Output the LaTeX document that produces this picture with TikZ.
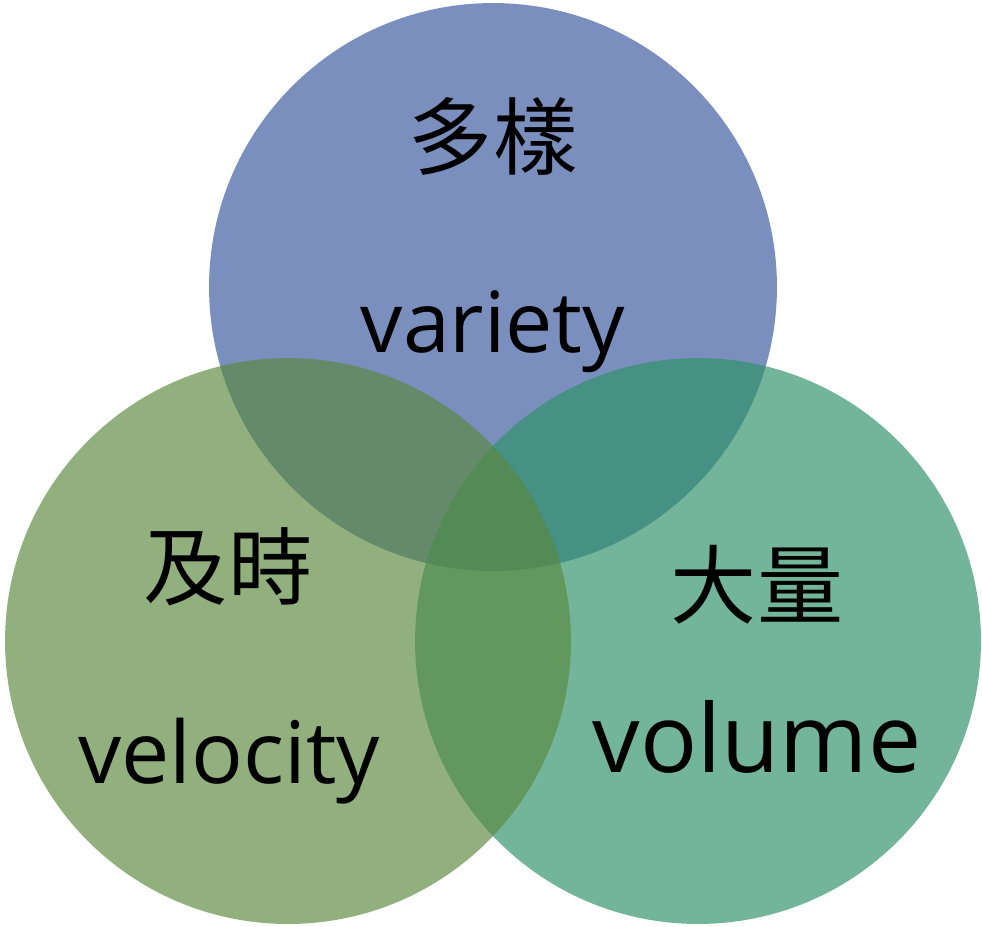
\documentclass[tikz,border=0pt]{standalone}
\usepackage{fontspec}
\setmainfont{Open Sans}
\newfontfamily\cjk{Noto Sans CJK TC}
\usepackage{tikz}
\usetikzlibrary{positioning}
\definecolor{vblue}{RGB}{57,88,157}
\definecolor{vteal}{RGB}{45,145,104}
\definecolor{vgreen}{RGB}{91,137,63}

\begin{document}
\begin{tikzpicture}[x=0.02cm, y=-0.02cm]
    \useasboundingbox (0,0) rectangle (982,926);
    \node[circle, fill=vblue, fill opacity=0.67, minimum size=11.36cm, inner sep=0pt] (top) at (493,287) {};
    \node[circle, fill=vteal, fill opacity=0.67, minimum size=11.32cm, inner sep=0pt] (right) at (698,641) {};
    \node[circle, fill=vgreen, fill opacity=0.67, minimum size=11.32cm, inner sep=0pt] (left) at (288,641) {};
    \node[font=\cjk\fontsize{48}{52}\selectfont] (topzh) at (493,136) {多樣};
    \node[font=\fontsize{48}{52}\selectfont] (topen) at (493,332) {variety};
    \node[font=\cjk\fontsize{48}{52}\selectfont] (leftzh) at (228,567) {及時};
    \node[font=\fontsize{49}{53}\selectfont] (lefte) at (229,761) {velocity};
    \node[font=\cjk\fontsize{49}{53}\selectfont] (rightzh) at (757,585) {大量};
    \node[font=\fontsize{54}{58}\selectfont] (righten) at (757,737) {volume};
\end{tikzpicture}
\end{document}
